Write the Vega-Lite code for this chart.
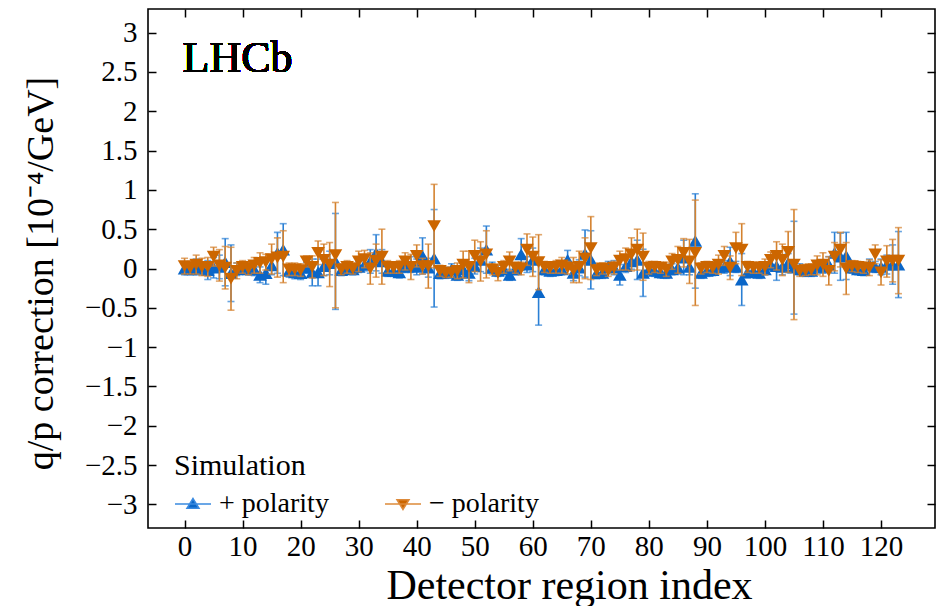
{
"$schema":"https://vega.github.io/schema/vega-lite/v6.json",
"width":787,"height":519,"autosize":"none",
"padding":{"left":148,"top":9,"right":1,"bottom":78},
"background":"white",
"config":{"view":{"stroke":"black","strokeWidth":1.6},"font":"Liberation Serif",
"axis":{"domain":false,"grid":false,"ticks":true,"tickSize":-8,"tickColor":"black","tickWidth":1.5,"labelFont":"Liberation Serif","labelFontSize":29,"labelColor":"black","titleFont":"Liberation Serif","titleFontSize":38,"titleFontWeight":"normal","titleColor":"black"},
"legend":{"titleFontSize":30,"titleFontWeight":"normal","titleFont":"Liberation Serif","titleColor":"black","labelFont":"Liberation Serif","labelFontSize":28,"labelColor":"black","symbolSize":1296,"symbolStrokeWidth":1.6,"columnPadding":52,"titlePadding":4,"labelOffset":7}},
"datasets":{"d":[
{"i":0,"pol":"+ polarity","v":0.0,"e":0.08},{"i":1,"pol":"+ polarity","v":-0.01,"e":0.07},{"i":2,"pol":"+ polarity","v":0.02,"e":0.1},{"i":3,"pol":"+ polarity","v":0.0,"e":0.08},{"i":4,"pol":"+ polarity","v":-0.02,"e":0.12},{"i":5,"pol":"+ polarity","v":0.01,"e":0.13},{"i":6,"pol":"+ polarity","v":0.02,"e":0.15},{"i":7,"pol":"+ polarity","v":0.08,"e":0.3},{"i":8,"pol":"+ polarity","v":-0.06,"e":0.36},{"i":9,"pol":"+ polarity","v":-0.01,"e":0.08},
{"i":10,"pol":"+ polarity","v":0.01,"e":0.07},{"i":11,"pol":"+ polarity","v":-0.01,"e":0.07},{"i":12,"pol":"+ polarity","v":-0.01,"e":0.08},{"i":13,"pol":"+ polarity","v":-0.08,"e":0.1},{"i":14,"pol":"+ polarity","v":-0.06,"e":0.14},{"i":15,"pol":"+ polarity","v":0.04,"e":0.12},{"i":16,"pol":"+ polarity","v":0.2,"e":0.26},{"i":17,"pol":"+ polarity","v":0.24,"e":0.33},{"i":18,"pol":"+ polarity","v":-0.03,"e":0.08},{"i":19,"pol":"+ polarity","v":-0.05,"e":0.08},
{"i":20,"pol":"+ polarity","v":-0.06,"e":0.08},{"i":21,"pol":"+ polarity","v":0.01,"e":0.07},{"i":22,"pol":"+ polarity","v":-0.05,"e":0.17},{"i":23,"pol":"+ polarity","v":-0.05,"e":0.17},{"i":24,"pol":"+ polarity","v":0.03,"e":0.12},{"i":25,"pol":"+ polarity","v":0.07,"e":0.15},{"i":26,"pol":"+ polarity","v":0.09,"e":0.61},{"i":27,"pol":"+ polarity","v":-0.02,"e":0.07},{"i":28,"pol":"+ polarity","v":0.0,"e":0.07},{"i":29,"pol":"+ polarity","v":-0.01,"e":0.07},
{"i":30,"pol":"+ polarity","v":0.02,"e":0.07},{"i":31,"pol":"+ polarity","v":0.05,"e":0.08},{"i":32,"pol":"+ polarity","v":0.09,"e":0.15},{"i":33,"pol":"+ polarity","v":0.2,"e":0.23},{"i":34,"pol":"+ polarity","v":0.09,"e":0.15},{"i":35,"pol":"+ polarity","v":-0.03,"e":0.07},{"i":36,"pol":"+ polarity","v":-0.03,"e":0.07},{"i":37,"pol":"+ polarity","v":-0.05,"e":0.07},{"i":38,"pol":"+ polarity","v":0.02,"e":0.07},{"i":39,"pol":"+ polarity","v":0.05,"e":0.1},
{"i":40,"pol":"+ polarity","v":0.02,"e":0.1},{"i":41,"pol":"+ polarity","v":0.16,"e":0.23},{"i":42,"pol":"+ polarity","v":0.01,"e":0.12},{"i":43,"pol":"+ polarity","v":0.13,"e":0.62},{"i":44,"pol":"+ polarity","v":-0.06,"e":0.07},{"i":45,"pol":"+ polarity","v":-0.055,"e":0.07},{"i":46,"pol":"+ polarity","v":-0.01,"e":0.07},{"i":47,"pol":"+ polarity","v":-0.08,"e":0.07},{"i":48,"pol":"+ polarity","v":-0.01,"e":0.09},{"i":49,"pol":"+ polarity","v":-0.055,"e":0.1},
{"i":50,"pol":"+ polarity","v":0.03,"e":0.1},{"i":51,"pol":"+ polarity","v":0.11,"e":0.15},{"i":52,"pol":"+ polarity","v":0.24,"e":0.3},{"i":53,"pol":"+ polarity","v":0.01,"e":0.07},{"i":54,"pol":"+ polarity","v":-0.03,"e":0.07},{"i":55,"pol":"+ polarity","v":-0.01,"e":0.07},{"i":56,"pol":"+ polarity","v":-0.08,"e":0.07},{"i":57,"pol":"+ polarity","v":-0.01,"e":0.07},{"i":58,"pol":"+ polarity","v":0.18,"e":0.2},{"i":59,"pol":"+ polarity","v":0.05,"e":0.1},
{"i":60,"pol":"+ polarity","v":0.11,"e":0.15},{"i":61,"pol":"+ polarity","v":-0.3,"e":0.42},{"i":62,"pol":"+ polarity","v":-0.01,"e":0.07},{"i":63,"pol":"+ polarity","v":-0.03,"e":0.07},{"i":64,"pol":"+ polarity","v":-0.02,"e":0.07},{"i":65,"pol":"+ polarity","v":-0.01,"e":0.07},{"i":66,"pol":"+ polarity","v":0.11,"e":0.12},{"i":67,"pol":"+ polarity","v":-0.055,"e":0.1},{"i":68,"pol":"+ polarity","v":0.01,"e":0.1},{"i":69,"pol":"+ polarity","v":0.19,"e":0.3},
{"i":70,"pol":"+ polarity","v":0.11,"e":0.37},{"i":71,"pol":"+ polarity","v":-0.06,"e":0.07},{"i":72,"pol":"+ polarity","v":-0.055,"e":0.07},{"i":73,"pol":"+ polarity","v":0.02,"e":0.07},{"i":74,"pol":"+ polarity","v":0.01,"e":0.09},{"i":75,"pol":"+ polarity","v":-0.08,"e":0.13},{"i":76,"pol":"+ polarity","v":0.03,"e":0.08},{"i":77,"pol":"+ polarity","v":0.09,"e":0.1},{"i":78,"pol":"+ polarity","v":0.11,"e":0.25},{"i":79,"pol":"+ polarity","v":-0.055,"e":0.3},
{"i":80,"pol":"+ polarity","v":-0.01,"e":0.07},{"i":81,"pol":"+ polarity","v":-0.03,"e":0.07},{"i":82,"pol":"+ polarity","v":-0.05,"e":0.07},{"i":83,"pol":"+ polarity","v":-0.055,"e":0.07},{"i":84,"pol":"+ polarity","v":-0.01,"e":0.07},{"i":85,"pol":"+ polarity","v":0.01,"e":0.08},{"i":86,"pol":"+ polarity","v":0.14,"e":0.22},{"i":87,"pol":"+ polarity","v":0.02,"e":0.1},{"i":88,"pol":"+ polarity","v":0.35,"e":0.6},{"i":89,"pol":"+ polarity","v":-0.055,"e":0.07},
{"i":90,"pol":"+ polarity","v":-0.03,"e":0.07},{"i":91,"pol":"+ polarity","v":-0.02,"e":0.07},{"i":92,"pol":"+ polarity","v":0.02,"e":0.07},{"i":93,"pol":"+ polarity","v":0.02,"e":0.08},{"i":94,"pol":"+ polarity","v":0.09,"e":0.18},{"i":95,"pol":"+ polarity","v":0.02,"e":0.07},{"i":96,"pol":"+ polarity","v":-0.14,"e":0.33},{"i":97,"pol":"+ polarity","v":-0.05,"e":0.07},{"i":98,"pol":"+ polarity","v":-0.03,"e":0.07},{"i":99,"pol":"+ polarity","v":-0.055,"e":0.07},
{"i":100,"pol":"+ polarity","v":-0.01,"e":0.07},{"i":101,"pol":"+ polarity","v":0.05,"e":0.08},{"i":102,"pol":"+ polarity","v":0.03,"e":0.18},{"i":103,"pol":"+ polarity","v":0.02,"e":0.1},{"i":104,"pol":"+ polarity","v":0.07,"e":0.12},{"i":105,"pol":"+ polarity","v":0.01,"e":0.59},{"i":106,"pol":"+ polarity","v":-0.01,"e":0.07},{"i":107,"pol":"+ polarity","v":-0.03,"e":0.07},{"i":108,"pol":"+ polarity","v":-0.03,"e":0.07},{"i":109,"pol":"+ polarity","v":0.02,"e":0.08},
{"i":110,"pol":"+ polarity","v":0.02,"e":0.08},{"i":111,"pol":"+ polarity","v":0.05,"e":0.1},{"i":112,"pol":"+ polarity","v":0.2,"e":0.26},{"i":113,"pol":"+ polarity","v":0.15,"e":0.3},{"i":114,"pol":"+ polarity","v":0.16,"e":0.3},{"i":115,"pol":"+ polarity","v":0.01,"e":0.07},{"i":116,"pol":"+ polarity","v":-0.01,"e":0.07},{"i":117,"pol":"+ polarity","v":-0.02,"e":0.07},{"i":118,"pol":"+ polarity","v":0.05,"e":0.07},{"i":119,"pol":"+ polarity","v":0.02,"e":0.07},
{"i":120,"pol":"+ polarity","v":0.02,"e":0.1},{"i":121,"pol":"+ polarity","v":0.05,"e":0.12},{"i":122,"pol":"+ polarity","v":0.05,"e":0.25},{"i":123,"pol":"+ polarity","v":0.05,"e":0.42},
{"i":0,"pol":"− polarity","v":0.03,"e":0.1},{"i":1,"pol":"− polarity","v":0.01,"e":0.08},{"i":2,"pol":"− polarity","v":0.05,"e":0.12},{"i":3,"pol":"− polarity","v":0.02,"e":0.11},{"i":4,"pol":"− polarity","v":0.02,"e":0.12},{"i":5,"pol":"− polarity","v":0.15,"e":0.12},{"i":6,"pol":"− polarity","v":0.04,"e":0.2},{"i":7,"pol":"− polarity","v":0.01,"e":0.27},{"i":8,"pol":"− polarity","v":-0.13,"e":0.4},{"i":9,"pol":"− polarity","v":-0.03,"e":0.1},
{"i":10,"pol":"− polarity","v":0.02,"e":0.08},{"i":11,"pol":"− polarity","v":0.0,"e":0.08},{"i":12,"pol":"− polarity","v":0.04,"e":0.1},{"i":13,"pol":"− polarity","v":0.07,"e":0.13},{"i":14,"pol":"− polarity","v":0.08,"e":0.1},{"i":15,"pol":"− polarity","v":0.12,"e":0.19},{"i":16,"pol":"− polarity","v":0.14,"e":0.25},{"i":17,"pol":"− polarity","v":0.15,"e":0.33},{"i":18,"pol":"− polarity","v":-0.01,"e":0.08},{"i":19,"pol":"− polarity","v":-0.01,"e":0.08},
{"i":20,"pol":"− polarity","v":-0.02,"e":0.08},{"i":21,"pol":"− polarity","v":0.09,"e":0.07},{"i":22,"pol":"− polarity","v":0.02,"e":0.14},{"i":23,"pol":"− polarity","v":0.2,"e":0.15},{"i":24,"pol":"− polarity","v":0.11,"e":0.2},{"i":25,"pol":"− polarity","v":0.05,"e":0.28},{"i":26,"pol":"− polarity","v":0.17,"e":0.67},{"i":27,"pol":"− polarity","v":-0.01,"e":0.07},{"i":28,"pol":"− polarity","v":0.02,"e":0.08},{"i":29,"pol":"− polarity","v":0.0,"e":0.07},
{"i":30,"pol":"− polarity","v":0.09,"e":0.13},{"i":31,"pol":"− polarity","v":0.12,"e":0.11},{"i":32,"pol":"− polarity","v":0.0,"e":0.2},{"i":33,"pol":"− polarity","v":0.1,"e":0.21},{"i":34,"pol":"− polarity","v":0.15,"e":0.35},{"i":35,"pol":"− polarity","v":0.02,"e":0.08},{"i":36,"pol":"− polarity","v":0.01,"e":0.07},{"i":37,"pol":"− polarity","v":0.02,"e":0.08},{"i":38,"pol":"− polarity","v":0.09,"e":0.11},{"i":39,"pol":"− polarity","v":0.02,"e":0.16},
{"i":40,"pol":"− polarity","v":0.16,"e":0.14},{"i":41,"pol":"− polarity","v":0.03,"e":0.1},{"i":42,"pol":"− polarity","v":0.03,"e":0.28},{"i":43,"pol":"− polarity","v":0.54,"e":0.53},{"i":44,"pol":"− polarity","v":-0.03,"e":0.07},{"i":45,"pol":"− polarity","v":-0.055,"e":0.06},{"i":46,"pol":"− polarity","v":-0.05,"e":0.06},{"i":47,"pol":"− polarity","v":-0.03,"e":0.1},{"i":48,"pol":"− polarity","v":0.05,"e":0.17},{"i":49,"pol":"− polarity","v":0.02,"e":0.2},
{"i":50,"pol":"− polarity","v":0.16,"e":0.2},{"i":51,"pol":"− polarity","v":0.09,"e":0.25},{"i":52,"pol":"− polarity","v":0.18,"e":0.3},{"i":53,"pol":"− polarity","v":-0.01,"e":0.07},{"i":54,"pol":"− polarity","v":-0.055,"e":0.1},{"i":55,"pol":"− polarity","v":0.02,"e":0.08},{"i":56,"pol":"− polarity","v":0.09,"e":0.12},{"i":57,"pol":"− polarity","v":0.01,"e":0.07},{"i":58,"pol":"− polarity","v":0.0,"e":0.08},{"i":59,"pol":"− polarity","v":0.24,"e":0.2},
{"i":60,"pol":"− polarity","v":0.15,"e":0.25},{"i":61,"pol":"− polarity","v":0.08,"e":0.35},{"i":62,"pol":"− polarity","v":0.02,"e":0.07},{"i":63,"pol":"− polarity","v":0.01,"e":0.07},{"i":64,"pol":"− polarity","v":0.02,"e":0.08},{"i":65,"pol":"− polarity","v":0.04,"e":0.1},{"i":66,"pol":"− polarity","v":0.01,"e":0.08},{"i":67,"pol":"− polarity","v":-0.02,"e":0.16},{"i":68,"pol":"− polarity","v":0.02,"e":0.2},{"i":69,"pol":"− polarity","v":0.13,"e":0.26},
{"i":70,"pol":"− polarity","v":0.26,"e":0.4},{"i":71,"pol":"− polarity","v":-0.02,"e":0.07},{"i":72,"pol":"− polarity","v":0.0,"e":0.07},{"i":73,"pol":"− polarity","v":-0.03,"e":0.07},{"i":74,"pol":"− polarity","v":0.01,"e":0.08},{"i":75,"pol":"− polarity","v":0.1,"e":0.12},{"i":76,"pol":"− polarity","v":0.12,"e":0.14},{"i":77,"pol":"− polarity","v":0.18,"e":0.21},{"i":78,"pol":"− polarity","v":0.24,"e":0.26},{"i":79,"pol":"− polarity","v":0.15,"e":0.3},
{"i":80,"pol":"− polarity","v":0.01,"e":0.08},{"i":81,"pol":"− polarity","v":0.02,"e":0.07},{"i":82,"pol":"− polarity","v":0.01,"e":0.07},{"i":83,"pol":"− polarity","v":-0.01,"e":0.09},{"i":84,"pol":"− polarity","v":0.09,"e":0.1},{"i":85,"pol":"− polarity","v":0.11,"e":0.17},{"i":86,"pol":"− polarity","v":0.2,"e":0.18},{"i":87,"pol":"− polarity","v":0.09,"e":0.28},{"i":88,"pol":"− polarity","v":0.2,"e":0.67},{"i":89,"pol":"− polarity","v":0.0,"e":0.07},
{"i":90,"pol":"− polarity","v":0.02,"e":0.07},{"i":91,"pol":"− polarity","v":0.01,"e":0.07},{"i":92,"pol":"− polarity","v":0.05,"e":0.12},{"i":93,"pol":"− polarity","v":0.16,"e":0.12},{"i":94,"pol":"− polarity","v":0.01,"e":0.15},{"i":95,"pol":"− polarity","v":0.26,"e":0.2},{"i":96,"pol":"− polarity","v":0.24,"e":0.33},{"i":97,"pol":"− polarity","v":0.02,"e":0.07},{"i":98,"pol":"− polarity","v":0.01,"e":0.07},{"i":99,"pol":"− polarity","v":0.01,"e":0.07},
{"i":100,"pol":"− polarity","v":0.02,"e":0.1},{"i":101,"pol":"− polarity","v":0.11,"e":0.1},{"i":102,"pol":"− polarity","v":0.16,"e":0.18},{"i":103,"pol":"− polarity","v":0.11,"e":0.2},{"i":104,"pol":"− polarity","v":0.21,"e":0.26},{"i":105,"pol":"− polarity","v":0.05,"e":0.7},{"i":106,"pol":"− polarity","v":-0.03,"e":0.07},{"i":107,"pol":"− polarity","v":-0.02,"e":0.07},{"i":108,"pol":"− polarity","v":-0.01,"e":0.07},{"i":109,"pol":"− polarity","v":0.04,"e":0.12},
{"i":110,"pol":"− polarity","v":0.05,"e":0.15},{"i":111,"pol":"− polarity","v":-0.03,"e":0.18},{"i":112,"pol":"− polarity","v":0.15,"e":0.18},{"i":113,"pol":"− polarity","v":0.24,"e":0.22},{"i":114,"pol":"− polarity","v":0.0,"e":0.33},{"i":115,"pol":"− polarity","v":0.03,"e":0.07},{"i":116,"pol":"− polarity","v":0.02,"e":0.07},{"i":117,"pol":"− polarity","v":0.01,"e":0.07},{"i":118,"pol":"− polarity","v":0.01,"e":0.1},{"i":119,"pol":"− polarity","v":0.18,"e":0.12},
{"i":120,"pol":"− polarity","v":-0.05,"e":0.16},{"i":121,"pol":"− polarity","v":0.09,"e":0.2},{"i":122,"pol":"− polarity","v":0.1,"e":0.27},{"i":123,"pol":"− polarity","v":0.1,"e":0.42}
]},
"data":{"name":"d"},
"layer":[
{"transform":[{"filter":"datum.pol === '+ polarity'"}],
 "mark":{"type":"errorbar","ticks":{"size":7,"color":"#2a7fd4"},"rule":{"color":"#2a7fd4"},"thickness":1.6},
 "encoding":{"x":{"field":"i","type":"quantitative","scale":{"domain":[-6.3,129.3],"nice":false,"zero":false},"axis":null},
  "y":{"field":"v","type":"quantitative","scale":{"domain":[-3.3,3.3],"nice":false,"zero":false},"axis":null},
  "yError":{"field":"e"}}},
{"transform":[{"filter":"datum.pol === '+ polarity'"}],
 "mark":{"type":"point","filled":true,"opacity":1,"size":185,"shape":"triangle-up"},
 "encoding":{"x":{"field":"i","type":"quantitative","axis":{"orient":"bottom","values":[0,10,20,30,40,50,60,70,80,90,100,110,120],"labelPadding":12,"title":"Detector region index","titleFontSize":42,"titleX":421,"titleY":70,"titleBaseline":"alphabetic","titleAlign":"center"}},
  "y":{"field":"v","type":"quantitative","axis":{"orient":"left","values":[-3,-2.5,-2,-1.5,-1,-0.5,0,0.5,1,1.5,2,2.5,3],"format":"~g","labelPadding":19,"title":"q/p correction [10⁻⁴/GeV]","titleX":-96,"titleY":264,"titleAngle":-90,"titleBaseline":"alphabetic","titleAlign":"center"}},
  "fill":{"field":"pol","type":"nominal","title":"Simulation","scale":{"domain":["+ polarity","− polarity"],"range":["#0a66c8","#cc6600"]},"legend":{"orient":"none","legendX":26,"legendY":442,"direction":"horizontal"}}}},
{"transform":[{"filter":"datum.pol === '− polarity'"}],
 "mark":{"type":"errorbar","ticks":{"size":7,"color":"#d4822f"},"rule":{"color":"#d4822f"},"thickness":1.6},
 "encoding":{"x":{"field":"i","type":"quantitative","axis":null},
  "y":{"field":"v","type":"quantitative","axis":null},
  "yError":{"field":"e"}}},
{"transform":[{"filter":"datum.pol === '− polarity'"}],
 "mark":{"type":"point","filled":true,"opacity":1,"size":185,"shape":"triangle-down"},
 "encoding":{"x":{"field":"i","type":"quantitative","axis":{"orient":"top","values":[0,10,20,30,40,50,60,70,80,90,100,110,120],"labels":false,"title":null}},
  "y":{"field":"v","type":"quantitative","axis":{"orient":"right","values":[-3,-2.5,-2,-1.5,-1,-0.5,0,0.5,1,1.5,2,2.5,3],"labels":false,"title":null}},
  "fill":{"field":"pol","type":"nominal","title":"Simulation","legend":{"orient":"none","legendX":26,"legendY":442,"direction":"horizontal"}}}},
{"transform":[{"filter":"false"}],
 "mark":{"type":"point","filled":true,"opacity":1,"strokeWidth":1.6},
 "encoding":{"x":{"field":"i","type":"quantitative","axis":null},"y":{"field":"v","type":"quantitative","axis":null},
  "fill":{"field":"pol","type":"nominal","title":"Simulation","legend":{"orient":"none","legendX":26,"legendY":442,"direction":"horizontal"}},
  "stroke":{"field":"pol","type":"nominal","title":"Simulation","scale":{"domain":["+ polarity","− polarity"],"range":["#3a8ae0","#dd8a3a"]},"legend":{"orient":"none","legendX":26,"legendY":442,"direction":"horizontal"}},
  "shape":{"field":"pol","type":"nominal","title":"Simulation","scale":{"domain":["+ polarity","− polarity"],"range":["M-1,0H1M0,-0.3L0.33,0.24L-0.33,0.24Z","M-1,0H1M0,0.3L0.33,-0.24L-0.33,-0.24Z"]},"legend":{"orient":"none","legendX":26,"legendY":442,"direction":"horizontal"}}}},
{"mark":{"type":"text","align":"left","baseline":"alphabetic","fontSize":44,"font":"Liberation Serif","color":"black"},
 "encoding":{"x":{"datum":-0.35,"type":"quantitative","axis":null},"y":{"datum":2.5,"type":"quantitative","axis":null},"text":{"value":"LHCb"}}}
],
"resolve":{"axis":{"x":"independent","y":"independent"}}
}
